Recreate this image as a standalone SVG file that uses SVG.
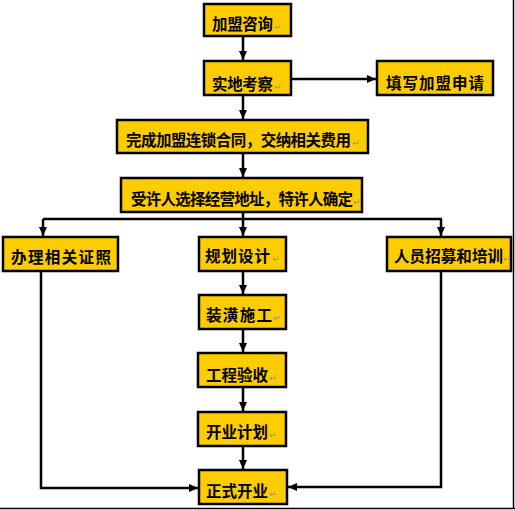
<svg xmlns="http://www.w3.org/2000/svg" width="515" height="510" viewBox="0 0 515 510">
<style>
.box{fill:#FFCC00;stroke:#000;stroke-width:2.5}
.t{font-family:"Noto Sans CJK SC","Noto Sans",sans-serif;font-weight:bold;font-size:15.5px;fill:#000}
.r{font-family:"DejaVu Sans",sans-serif;font-size:9px;fill:#a09870}
.c{fill:none;stroke:#000;stroke-width:2.5}
.pg{fill:none;stroke:#000;stroke-width:1.5}
</style>
<defs>
<marker id="ah" markerUnits="userSpaceOnUse" markerWidth="10" markerHeight="10" refX="9" refY="5" orient="auto">
<path d="M0,1 L9,5 L0,9 Z" fill="#000"/>
</marker>
</defs>
<rect width="515" height="510" fill="#fff"/>
<path class="pg" d="M513.5,0 V508.5 M0,508.5 H515"/>
<g id="connectors">
<path class="c" d="M243,37 V60" marker-end="url(#ah)"/>
<path class="c" d="M243,96 V119" marker-end="url(#ah)"/>
<path class="c" d="M292,79 H376" marker-end="url(#ah)"/>
<path class="c" d="M243,153 V177" marker-end="url(#ah)"/>
<path class="c" d="M243,212 V219 M43,219 H442"/>
<path class="c" d="M43,219 V236" marker-end="url(#ah)"/>
<path class="c" d="M243,219 V236" marker-end="url(#ah)"/>
<path class="c" d="M441,219 V236" marker-end="url(#ah)"/>
<path class="c" d="M243,271 V294" marker-end="url(#ah)"/>
<path class="c" d="M243,329 V352" marker-end="url(#ah)"/>
<path class="c" d="M243,387 V411" marker-end="url(#ah)"/>
<path class="c" d="M243,446 V469" marker-end="url(#ah)"/>
<path class="c" d="M41,271 V488 H198" marker-end="url(#ah)"/>
<path class="c" d="M441,271 V487 H288" marker-end="url(#ah)"/>
</g>
<g id="n1"><rect class="box" x="204" y="4" width="87" height="32"/><text class="t" x="212" y="30" textLength="61" lengthAdjust="spacing">加盟咨询</text><text class="r" x="274" y="30">↵</text></g>
<g id="n2"><rect class="box" x="204" y="61" width="87" height="34"/><text class="t" x="212" y="90" textLength="61" lengthAdjust="spacing">实地考察</text><text class="r" x="274" y="90">↵</text></g>
<g id="n3"><rect class="box" x="377" y="61" width="116" height="34"/><text class="t" x="386" y="89" textLength="98" lengthAdjust="spacing">填写加盟申请</text></g>
<g id="n4"><rect class="box" x="117" y="120" width="251" height="33"/><text class="t" x="126" y="146" textLength="225" lengthAdjust="spacing">完成加盟连锁合同，交纳相关费用</text><text class="r" x="352" y="146">↵</text></g>
<g id="n5"><rect class="box" x="121" y="178" width="241" height="34"/><text class="t" x="131" y="205" textLength="222" lengthAdjust="spacing">受许人选择经营地址，特许人确定</text><text class="r" x="353" y="205">↵</text></g>
<g id="n6"><rect class="box" x="3" y="237" width="115" height="34"/><text class="t" x="11" y="263" textLength="100" lengthAdjust="spacing">办理相关证照</text></g>
<g id="n7"><rect class="box" x="199" y="237" width="87" height="34"/><text class="t" x="205" y="262" textLength="65" lengthAdjust="spacing">规划设计</text><text class="r" x="272" y="262">↵</text></g>
<g id="n8"><rect class="box" x="387" y="237" width="124" height="34"/><text class="t" x="394" y="262" textLength="109" lengthAdjust="spacing">人员招募和培训</text><text class="r" x="503" y="262">↵</text></g>
<g id="n9"><rect class="box" x="199" y="295" width="87" height="34"/><text class="t" x="206" y="321" textLength="66" lengthAdjust="spacing">装潢施工</text><text class="r" x="273" y="321">↵</text></g>
<g id="n10"><rect class="box" x="198" y="353" width="88" height="34"/><text class="t" x="206" y="381" textLength="62" lengthAdjust="spacing">工程验收</text><text class="r" x="269" y="381">↵</text></g>
<g id="n11"><rect class="box" x="198" y="412" width="88" height="34"/><text class="t" x="206" y="438" textLength="62" lengthAdjust="spacing">开业计划</text><text class="r" x="269" y="438">↵</text></g>
<g id="n12"><rect class="box" x="199" y="470" width="88" height="34"/><text class="t" x="206" y="497" textLength="62" lengthAdjust="spacing">正式开业</text><text class="r" x="269" y="497">↵</text></g>
</svg>
